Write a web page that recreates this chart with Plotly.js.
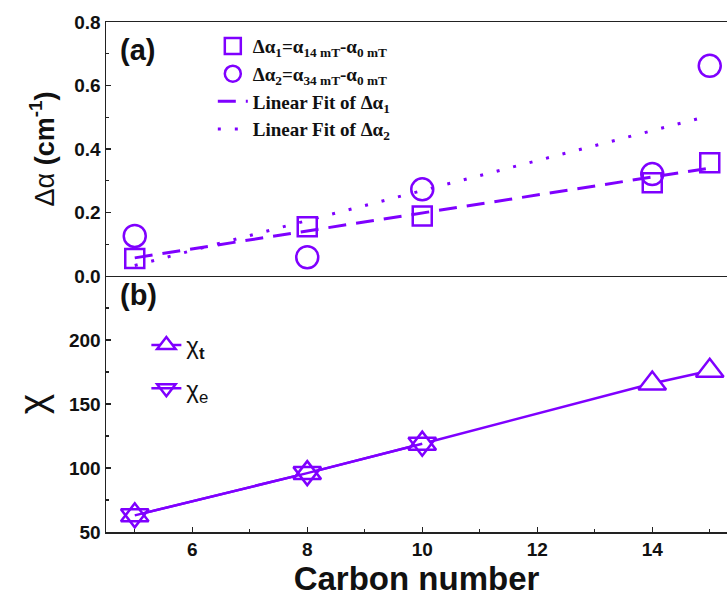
<!DOCTYPE html>
<html>
<head>
<meta charset="utf-8">
<script src="https://cdn.plot.ly/plotly-3.0.1.min.js"></script>
<style>html,body{margin:0;padding:0;background:#fff;}#chart{width:727px;height:599px;}</style>
</head>
<body>
<div id="chart"></div>
<script>
// ---- data ----
const carbon = [5, 8, 10, 14, 15];
const dAlpha1 = [0.055, 0.155, 0.189, 0.294, 0.357];
const dAlpha2 = [0.126, 0.059, 0.273, 0.321, 0.662];
const fitX = [5, 15];
const fit1Y = [0.057, 0.340];
const fit2Y = [0.033, 0.505];
const chiT = [63, 96, 119, 166, 176];
const carbonE = [5, 8, 10];
const chiE = [63, 96, 119];
const yTopTicks = [0, 0.2, 0.4, 0.6, 0.8];
const yTopLabels = ['0.0', '0.2', '0.4', '0.6', '0.8'];
const yBotTicks = [50, 100, 150, 200];
const xTicks = [6, 8, 10, 12, 14];

const purple = '#7f00ff';
const serif = 'Liberation Serif, Times New Roman, serif';
const sans = 'Liberation Sans, Arial, sans-serif';

const traces = [
  {x: fitX, y: fit1Y, xaxis: 'x2', yaxis: 'y', mode: 'lines', type: 'scatter',
   name: '<b>Linear Fit of Δα<sub>1</sub></b>', legendgroup: 'c', legendrank: 3,
   line: {color: purple, width: 3, dash: '18px,10px'}},
  {x: fitX, y: fit2Y, xaxis: 'x2', yaxis: 'y', mode: 'lines', type: 'scatter',
   name: '<b>Linear Fit of Δα<sub>2</sub></b>', legendgroup: 'd', legendrank: 4,
   line: {color: purple, width: 3, dash: '3px,14px'}},
  {x: carbon, y: dAlpha1, xaxis: 'x2', yaxis: 'y', mode: 'markers', type: 'scatter',
   name: '<b>Δα<sub>1</sub>=α<sub>14 mT</sub>-α<sub>0 mT</sub></b>', legendgroup: 'a', legendrank: 1,
   marker: {symbol: 'square-open', size: 19, color: purple, line: {width: 2.5, color: purple}}},
  {x: carbon, y: dAlpha2, xaxis: 'x2', yaxis: 'y', mode: 'markers', type: 'scatter',
   name: '<b>Δα<sub>2</sub>=α<sub>34 mT</sub>-α<sub>0 mT</sub></b>', legendgroup: 'b', legendrank: 2,
   marker: {symbol: 'circle-open', size: 22, color: purple, line: {width: 2.5, color: purple}}},
  {x: carbon, y: chiT, xaxis: 'x', yaxis: 'y2', mode: 'lines+markers', type: 'scatter',
   name: 'χ<sub><b>t</b></sub>', legend: 'legend2', legendgroup: 'e',
   line: {color: purple, width: 2.5},
   marker: {symbol: 'triangle-up', size: 24, color: 'white', line: {width: 2.5, color: purple}}},
  {x: carbonE, y: chiE, xaxis: 'x', yaxis: 'y2', mode: 'lines+markers', type: 'scatter',
   name: 'χ<sub>e</sub>', legend: 'legend2', legendgroup: 'f',
   line: {color: purple, width: 2.5},
   marker: {symbol: 'triangle-down-open', size: 24, color: purple, line: {width: 2.5, color: purple}}}
];

const axisCommon = {
  showline: true, linecolor: '#222', linewidth: 1.5, showgrid: false, zeroline: false,
  ticks: 'inside', ticklen: 5, tickwidth: 1.2, tickcolor: '#222',
  tickfont: {family: sans, size: 19, color: '#111', weight: 'bold'}
};

const layout = {
  width: 727, height: 599,
  margin: {l: 106, r: 0, t: 22, b: 67},
  paper_bgcolor: '#fff', plot_bgcolor: '#fff',
  showlegend: true,
  xaxis: Object.assign({}, axisCommon, {
    anchor: 'y2', domain: [0, 1], range: [4.5, 15.3],
    tickvals: xTicks, ticktext: xTicks.map(String),
    minor: {ticks: 'inside', dtick: 1, ticklen: 3, tickcolor: '#222'},
    title: {text: '<b>Carbon number</b>', font: {family: sans, size: 33, color: '#111'}, standoff: 2}
  }),
  xaxis2: Object.assign({}, axisCommon, {
    anchor: 'y', matches: 'x', domain: [0, 1], range: [4.5, 15.3],
    showticklabels: false, ticks: '', mirror: true
  }),
  yaxis: Object.assign({}, axisCommon, {
    domain: [0.502, 1], range: [0, 0.8], anchor: 'x2',
    tickvals: yTopTicks, ticktext: yTopLabels,
    minor: {ticks: 'inside', dtick: 0.1, ticklen: 3, tickcolor: '#222'},
    title: {text: 'Δα <b>(cm<sup>-1</sup>)</b>', font: {family: sans, size: 27, color: '#111'}, standoff: 12}
  }),
  yaxis2: Object.assign({}, axisCommon, {
    domain: [0, 0.502], range: [50, 250], anchor: 'x',
    tickvals: yBotTicks, ticktext: yBotTicks.map(String),
    minor: {ticks: 'inside', dtick: 25, ticklen: 3, tickcolor: '#222'},
    title: {text: 'χ', font: {family: sans, size: 39, color: '#111'}, standoff: 10}
  }),
  legend: {
    x: 0.172, y: 0.99, xanchor: 'left', yanchor: 'top',
    bgcolor: 'rgba(0,0,0,0)', tracegroupgap: 11, traceorder: 'normal',
    font: {family: serif, size: 19, color: '#111'}
  },
  legend2: {
    x: 0.065, y: 0.41, xanchor: 'left', yanchor: 'top',
    bgcolor: 'rgba(0,0,0,0)', tracegroupgap: 9,
    font: {family: sans, size: 24, color: '#111'}
  },
  annotations: [
    {text: '<b>(a)</b>', xref: 'paper', yref: 'paper', x: 0.02, y: 0.945, xanchor: 'left', yanchor: 'middle',
     showarrow: false, font: {family: sans, size: 29, color: '#111'}},
    {text: '<b>(b)</b>', xref: 'paper', yref: 'paper', x: 0.02, y: 0.465, xanchor: 'left', yanchor: 'middle',
     showarrow: false, font: {family: sans, size: 29, color: '#111'}}
  ]
};

Plotly.newPlot('chart', traces, layout, {displayModeBar: false, staticPlot: true});
</script>
</body>
</html>
